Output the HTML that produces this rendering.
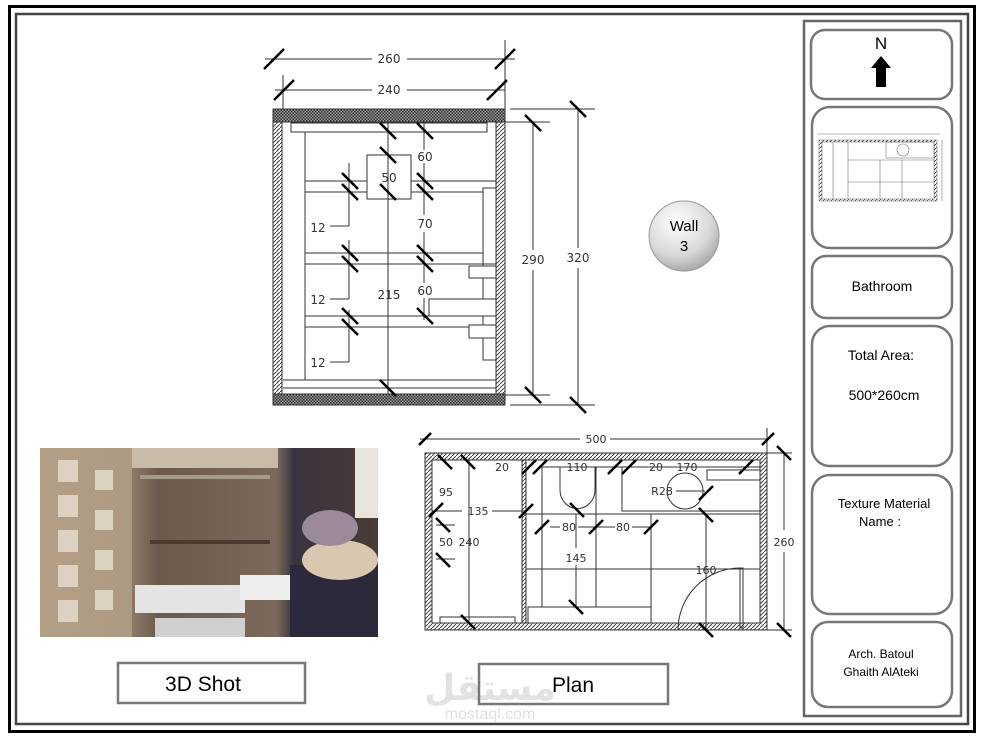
<!DOCTYPE html>
<html><head><meta charset="utf-8"><style>
html,body{margin:0;padding:0;background:#fff;}
body{width:982px;height:739px;position:relative;overflow:hidden;font-family:"Liberation Sans",sans-serif;}
</style></head><body>
<svg width="982" height="739" viewBox="0 0 982 739" xmlns="http://www.w3.org/2000/svg" style="position:absolute;left:0;top:0">
<defs>
<pattern id="h" width="4" height="4" patternUnits="userSpaceOnUse"><rect width="4" height="4" fill="#fff"/><path d="M0 4L4 0" stroke="#444" stroke-width="1"/></pattern>
<pattern id="x" width="3" height="3" patternUnits="userSpaceOnUse"><rect width="3" height="3" fill="#999"/><rect width="1.5" height="1.5" fill="#333"/><rect x="1.5" y="1.5" width="1.5" height="1.5" fill="#333"/></pattern>
<radialGradient id="g" cx="0.4" cy="0.3" r="0.8"><stop offset="0" stop-color="#fff"/><stop offset="0.6" stop-color="#d8d8d8"/><stop offset="1" stop-color="#999"/></radialGradient>
<linearGradient id="ph" x1="0" x2="1"><stop offset="0" stop-color="#a8927a"/><stop offset="0.28" stop-color="#8a7662"/><stop offset="0.35" stop-color="#6b5a4c"/><stop offset="0.7" stop-color="#7b6a5a"/><stop offset="0.75" stop-color="#3a3440"/><stop offset="1" stop-color="#4a3c36"/></linearGradient>
</defs>
<rect x="9.5" y="6.5" width="965" height="725" fill="none" stroke="#000" stroke-width="3"/>
<rect x="16" y="14" width="952" height="710" fill="none" stroke="#444" stroke-width="2.5"/>
<rect x="804" y="21" width="157" height="695" fill="none" stroke="#666" stroke-width="2.5"/>
<g fill="#fff" stroke="#777" stroke-width="2.5">
<rect x="811" y="30" width="141" height="69" rx="14"/>
<rect x="812" y="107" width="140" height="141" rx="18"/>
<rect x="812" y="256" width="140" height="62" rx="14"/>
<rect x="812" y="326" width="140" height="140" rx="18"/>
<rect x="812" y="475" width="140" height="139" rx="18"/>
<rect x="812" y="622" width="140" height="85" rx="16"/>
</g>
<g font-size="14" fill="#000" text-anchor="middle">
<text x="881" y="49" font-size="17">N</text>
<text x="882" y="291">Bathroom</text>
<text x="881" y="360">Total Area:</text>
<text x="884" y="400">500*260cm</text>
<text x="884" y="508" font-size="13">Texture Material</text>
<text x="880" y="526" font-size="13">Name :</text>
<text x="881" y="658" font-size="12">Arch. Batoul</text>
<text x="881" y="676" font-size="12">Ghaith AlAteki</text>
</g>
<path d="M881 56L891 68H886V87H876V68H871Z" fill="#000"/>
<g stroke="#777" stroke-width="0.6" fill="none">
<rect x="819" y="140" width="118" height="61" fill="url(#h)"/>
<rect x="822" y="142" width="112" height="57" fill="#fff"/>
<line x1="817" y1="134" x2="940" y2="134"/>
<line x1="848" y1="142" x2="848" y2="199"/><line x1="833" y1="142" x2="833" y2="199"/>
<line x1="848" y1="160" x2="934" y2="160"/><line x1="848" y1="182" x2="934" y2="182"/>
<line x1="880" y1="160" x2="880" y2="199"/><line x1="902" y1="160" x2="902" y2="199"/>
<circle cx="903" cy="150" r="6"/><rect x="886" y="142" width="48" height="16"/>
<line x1="942" y1="140" x2="942" y2="201"/>
</g>
<circle cx="684" cy="236" r="35" fill="url(#g)" stroke="#999"/>
<text x="684" y="231" font-size="15" text-anchor="middle">Wall</text>
<text x="684" y="251" font-size="15" text-anchor="middle">3</text>
<rect x="40" y="448" width="338" height="189" fill="url(#ph)"/>
<rect x="40" y="448" width="92" height="189" fill="#b5a28a" opacity="0.8"/>
<g fill="#e8e0d0" opacity="0.8"><rect x="58" y="460" width="20" height="22"/><rect x="58" y="495" width="20" height="22"/><rect x="58" y="530" width="20" height="22"/><rect x="58" y="565" width="20" height="22"/><rect x="58" y="600" width="20" height="22"/><rect x="95" y="470" width="18" height="20"/><rect x="95" y="510" width="18" height="20"/><rect x="95" y="550" width="18" height="20"/><rect x="95" y="590" width="18" height="20"/></g>
<rect x="132" y="448" width="146" height="20" fill="#c8bca8"/>
<rect x="140" y="475" width="130" height="4" fill="#a89a88"/>
<rect x="150" y="540" width="120" height="4" fill="#4a3a30"/>
<rect x="135" y="585" width="110" height="28" fill="#e4e4e4"/>
<rect x="155" y="618" width="90" height="19" fill="#cfcfcf"/>
<rect x="240" y="575" width="52" height="25" fill="#eee"/>
<rect x="290" y="565" width="88" height="72" fill="#2c2a3a"/>
<ellipse cx="340" cy="560" rx="38" ry="20" fill="#d8c8b0"/>
<ellipse cx="330" cy="528" rx="28" ry="18" fill="#9a8a9a"/>
<rect x="355" y="448" width="23" height="70" fill="#e8e4de"/>
<rect x="118" y="663" width="187" height="40" fill="#fff" stroke="#777" stroke-width="2.5"/>
<text x="203" y="691" font-size="21" text-anchor="middle">3D Shot</text>
<text x="490" y="700" font-size="36" fill="#e2e2e2" text-anchor="middle" font-weight="bold" font-family="'Liberation Sans','DejaVu Sans',sans-serif">مستقل</text>
<text x="490" y="719" font-size="16" fill="#e0e0e0" text-anchor="middle">mostaql.com</text>
<rect x="479" y="664" width="189" height="40" fill="none" stroke="#777" stroke-width="2.5"/>
<text x="573" y="692" font-size="21" text-anchor="middle">Plan</text>

<g stroke="#333" stroke-width="1" fill="none">
<rect x="273" y="109" width="232" height="296" fill="#fff"/>
<rect x="273" y="109" width="232" height="13" fill="url(#x)"/>
<rect x="273" y="394" width="232" height="11" fill="url(#x)"/>
<rect x="273" y="122" width="9" height="272" fill="url(#h)"/>
<rect x="496" y="122" width="9" height="272" fill="url(#h)"/>
<rect x="291" y="123" width="196" height="9"/>
<line x1="305" y1="132" x2="305" y2="380"/>
<rect x="367" y="155" width="44" height="44"/>
<line x1="305" y1="181" x2="367" y2="181"/><line x1="411" y1="181" x2="496" y2="181"/>
<line x1="305" y1="192" x2="367" y2="192"/><line x1="411" y1="192" x2="483" y2="192"/>
<line x1="305" y1="253" x2="483" y2="253"/><line x1="305" y1="264" x2="496" y2="264"/>
<line x1="305" y1="316" x2="496" y2="316"/><line x1="305" y1="327" x2="496" y2="327"/>
<rect x="483" y="188" width="13" height="172"/>
<rect x="469" y="266" width="27" height="12" fill="#fff"/>
<rect x="429" y="299" width="67" height="17" fill="#fff"/>
<rect x="469" y="325" width="27" height="13" fill="#fff"/>
<line x1="283" y1="380" x2="496" y2="380"/><line x1="283" y1="388" x2="496" y2="388"/>
<line x1="388" y1="122" x2="388" y2="394"/>
<line x1="424" y1="122" x2="424" y2="150"/><line x1="424" y1="163" x2="424" y2="215"/><line x1="424" y1="232" x2="424" y2="283"/><line x1="424" y1="298" x2="424" y2="320"/>
<line x1="349" y1="163" x2="349" y2="226"/><line x1="330" y1="226" x2="349" y2="226"/>
<line x1="349" y1="240" x2="349" y2="299"/><line x1="330" y1="299" x2="349" y2="299"/>
<line x1="349" y1="310" x2="349" y2="362"/><line x1="330" y1="362" x2="349" y2="362"/>
<line x1="265" y1="59" x2="372" y2="59"/><line x1="407" y1="59" x2="515" y2="59"/>
<line x1="283" y1="75" x2="283" y2="109"/><line x1="505" y1="40" x2="505" y2="109"/>
<line x1="275" y1="90" x2="372" y2="90"/><line x1="407" y1="90" x2="505" y2="90"/>
<line x1="510" y1="109" x2="595" y2="109"/><line x1="505" y1="122" x2="550" y2="122"/>
<line x1="505" y1="395" x2="550" y2="395"/><line x1="510" y1="405" x2="595" y2="405"/>
<line x1="533" y1="122" x2="533" y2="250"/><line x1="533" y1="270" x2="533" y2="395"/>
<line x1="578" y1="109" x2="578" y2="248"/><line x1="578" y1="268" x2="578" y2="405"/>
</g>
<g stroke="#000" stroke-width="2.5">
<path d="M264 69l20-20M495 69l20-20M274 100l20-20M487 100l20-20"/>
<path d="M525 115l16 16M570 101l16 16M525 387l16 16M570 397l16 16"/>
<path d="M380 123l16 16M417 123l16 16M380 147l16 16M380 184l16 16M417 173l16 16M417 184l16 16M342 173l16 16M342 184l16 16M342 245l16 16M342 256l16 16M417 245l16 16M417 256l16 16M417 308l16 16M342 308l16 16M342 319l16 16M380 380l16 16"/>
</g>
<g font-size="12" fill="#333" text-anchor="middle" font-family="'DejaVu Sans',sans-serif">
<text x="389" y="63">260</text><text x="389" y="94">240</text>
<text x="533" y="264">290</text><text x="578" y="262">320</text>
<text x="425" y="161">60</text><text x="389" y="182">50</text>
<text x="318" y="232">12</text><text x="425" y="228">70</text>
<text x="318" y="304">12</text><text x="389" y="299">215</text>
<text x="425" y="295">60</text><text x="318" y="367">12</text>
</g>

<g stroke="#333" stroke-width="1" fill="none">
<rect x="425" y="453" width="342" height="177" fill="url(#h)"/>
<rect x="432" y="460" width="328" height="163" fill="#fff"/>
<rect x="522" y="460" width="4" height="163" fill="url(#h)"/>
<line x1="469" y1="460" x2="469" y2="623"/>
<rect x="440" y="617" width="75" height="6"/>
<line x1="526" y1="514" x2="760" y2="514"/>
<rect x="622" y="467" width="138" height="44"/>
<rect x="707" y="470" width="53" height="10"/>
<circle cx="685" cy="491" r="18"/>
<path d="M560 467V490A17 18 0 0 0 595 490V467"/>
<line x1="542" y1="467" x2="542" y2="607"/><line x1="596" y1="467" x2="596" y2="607"/>
<line x1="651" y1="514" x2="651" y2="607"/><line x1="706" y1="514" x2="706" y2="630"/>
<line x1="526" y1="569" x2="760" y2="569"/>
<rect x="528" y="607" width="123" height="16"/>
<path d="M678 630A62 62 0 0 1 740 568"/>
<rect x="740" y="568" width="3" height="60"/>
<line x1="540" y1="467" x2="760" y2="467"/>
<line x1="420" y1="439" x2="580" y2="439"/><line x1="610" y1="439" x2="768" y2="439"/>
<line x1="767" y1="428" x2="767" y2="453"/>
<line x1="767" y1="453" x2="792" y2="453"/><line x1="767" y1="630" x2="792" y2="630"/>
<line x1="784" y1="453" x2="784" y2="530"/><line x1="784" y1="552" x2="784" y2="630"/>
<line x1="432" y1="511" x2="462" y2="511"/><line x1="492" y1="511" x2="526" y2="511"/>
<line x1="550" y1="527" x2="560" y2="527"/><line x1="578" y1="527" x2="615" y2="527"/><line x1="632" y1="527" x2="651" y2="527"/>
<line x1="576" y1="514" x2="576" y2="548"/><line x1="576" y1="565" x2="576" y2="607"/>
<line x1="436" y1="525" x2="455" y2="525"/><line x1="436" y1="559" x2="455" y2="559"/>
<line x1="676" y1="491" x2="705" y2="491"/>
</g>
<g stroke="#000" stroke-width="2.5">
<path d="M419 445l12-12M762 445l12-12"/>
<path d="M777 446l14 14M777 623l14 14"/>
<path d="M438 455l14 14M461 455l14 14M461 615l14 14M569 600l14 14M699 623l14 14M436 518l14 14M436 553l14 14M570 503l14 14M699 508l14 14"/>
<path d="M522 474l14-14M533 474l14-14M608 474l14-14M622 474l14-14M739 474l14-14M699 500l14-14M429 517l14-14M519 518l14-14M535 534l14-14M589 534l14-14M644 534l14-14"/>
</g>
<g font-size="11" fill="#333" text-anchor="middle" font-family="'DejaVu Sans',sans-serif">
<text x="596" y="443">500</text>
<text x="502" y="471">20</text><text x="577" y="471">110</text><text x="656" y="471">20</text><text x="687" y="471">170</text>
<text x="446" y="496">95</text><text x="478" y="515">135</text><text x="662" y="495">R28</text>
<text x="569" y="531">80</text><text x="623" y="531">80</text>
<text x="446" y="546">50</text><text x="469" y="546">240</text>
<text x="576" y="562">145</text><text x="706" y="574">160</text><text x="784" y="546">260</text>
</g>
</svg>
</body></html>
